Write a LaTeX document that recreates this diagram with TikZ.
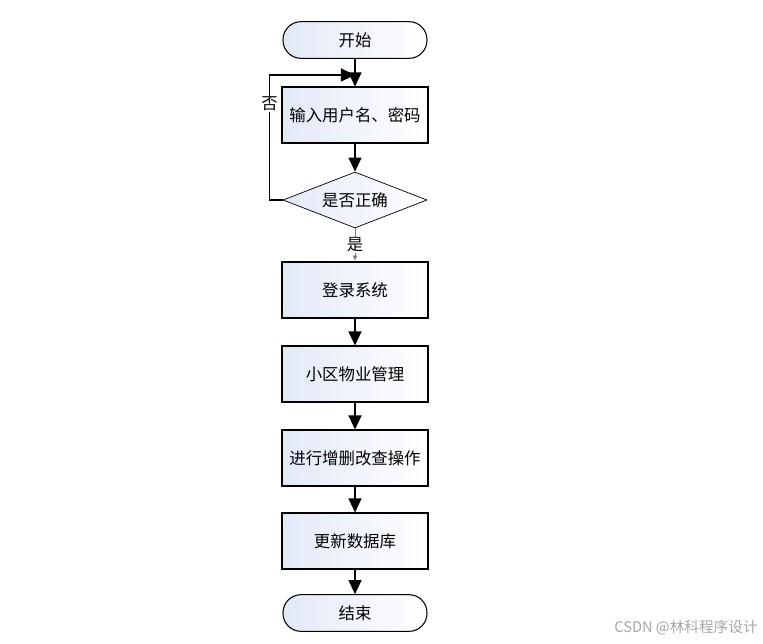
\documentclass[tikz,border=0pt]{standalone}
\usepackage{fontspec}
\setmainfont{Noto Sans CJK SC}
\usetikzlibrary{shapes.geometric,arrows.meta}
\definecolor{boxblue}{RGB}{226,233,247}
\tikzset{
  stepbox/.style={draw, line width=0.9pt, minimum width=4.38cm, minimum height=1.68cm,
    left color=boxblue, right color=white, font=\fontsize{14}{16}\selectfont},
  termbox/.style={stepbox, rounded corners=0.54cm, minimum width=4.32cm, minimum height=1.1cm},
  decbox/.style={draw, diamond, line width=0.6pt, aspect=2.57, inner sep=0pt,
    minimum width=4.32cm, minimum height=1.68cm, left color=boxblue, right color=white,
    font=\fontsize{14}{16}\selectfont},
  arr/.style={line width=1.4pt, -{Triangle[width=11pt,length=12pt]}}
}
\begin{document}
\begin{tikzpicture}[x=0.03cm,y=-0.03cm]
\useasboundingbox[fill=white] (0,0) rectangle (763,643);

\node[termbox] (start) at (355,40) {开始};
\node[stepbox] (input) at (355,115) {输入用户名、密码};
\node[decbox] (check) at (355,200) {是否正确};
\node[stepbox] (login) at (355,290) {登录系统};
\node[stepbox] (manage) at (355,374) {小区物业管理};
\node[stepbox] (edit) at (355,458) {进行增删改查操作};
\node[stepbox] (update) at (355,541) {更新数据库};
\node[termbox] (finish) at (355,613) {结束};
\coordinate (join) at (355,75);

\draw[arr] (start) -- (input);
\draw[arr] (input) -- (check);
\draw[arr] (check.west) -- ++(-13,0) |- (join)
  node[pos=0.385, fill=white, inner sep=1pt, font=\fontsize{14}{16}\selectfont] {否};
\draw[gray, line width=0.5pt, -{Triangle[width=4pt,length=4pt]}, shorten >=1pt] (check) -- (login)
  node[midway, fill=white, text=black, inner sep=1pt, font=\fontsize{14}{16}\selectfont] {是};
\draw[arr] (login) -- (manage);
\draw[arr] (manage) -- (edit);
\draw[arr] (edit) -- (update);
\draw[arr] (update) -- (finish);

\node[text=black!35, font=\fontsize{12.5}{14}\selectfont] (mark) at (686,628) {CSDN @林科程序设计};
\end{tikzpicture}
\end{document}
